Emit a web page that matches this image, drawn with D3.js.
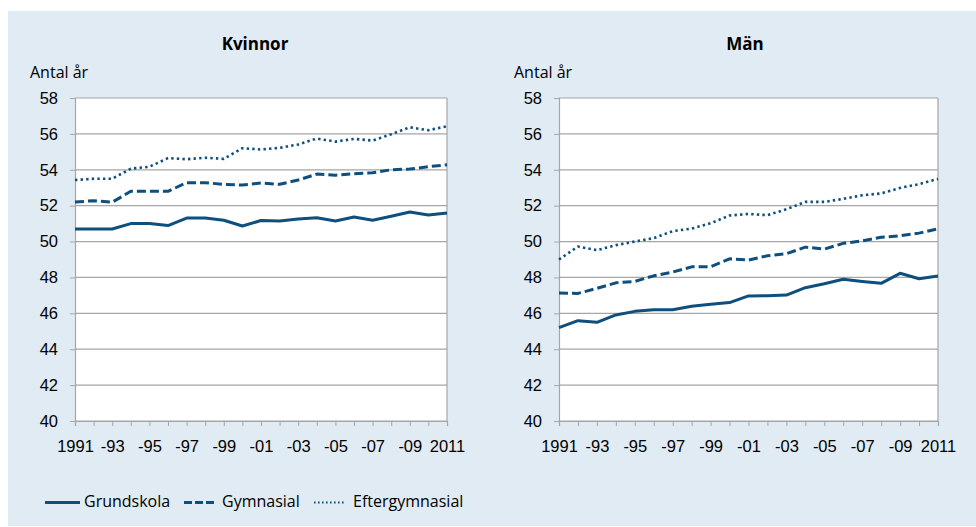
<!DOCTYPE html>
<html>
<head>
<meta charset="utf-8">
<script src="https://cdn.jsdelivr.net/npm/d3@7"></script>
<style>
  html, body { margin: 0; padding: 0; background: #fff; }
  svg { display: block; font-family: "Open Sans", sans-serif; }
  .tick text { font-size: 16.5px; fill: #000; }
</style>
</head>
<body>
<svg id="chart" width="976" height="527"></svg>
<script>
// Medelålder vid utträde, per utbildningsnivå, 1991–2011
const years = d3.range(1991, 2012);
const tickYears = [1991, 1993, 1995, 1997, 1999, 2001, 2003, 2005, 2007, 2009, 2011];
const yTicks = [40, 42, 44, 46, 48, 50, 52, 54, 56, 58];
const seriesNames = ['Grundskola', 'Gymnasial', 'Eftergymnasial'];

const kvinnorGrund = [50.70, 50.70, 50.70, 51.00, 51.00, 50.89, 51.31, 51.31, 51.19, 50.87, 51.17,
  51.15, 51.26, 51.33, 51.15, 51.37, 51.19, 51.41, 51.65, 51.48, 51.59];
const kvinnorGymn = [52.20, 52.28, 52.19, 52.80, 52.80, 52.80, 53.28, 53.28, 53.19, 53.15, 53.26,
  53.19, 53.43, 53.76, 53.70, 53.78, 53.83, 54.00, 54.04, 54.17, 54.28];
const kvinnorEfter = [53.43, 53.50, 53.50, 54.06, 54.17, 54.65, 54.59, 54.67, 54.61, 55.20, 55.13,
  55.22, 55.41, 55.74, 55.57, 55.72, 55.63, 55.98, 56.37, 56.20, 56.43];

const manGrund = [45.20, 45.59, 45.50, 45.91, 46.11, 46.20, 46.20, 46.39, 46.50, 46.60, 46.97,
  46.98, 47.02, 47.43, 47.65, 47.90, 47.78, 47.67, 48.23, 47.93, 48.08];
const manGymn = [47.13, 47.11, 47.39, 47.70, 47.78, 48.09, 48.30, 48.59, 48.59, 49.04, 48.97,
  49.21, 49.32, 49.69, 49.58, 49.90, 50.04, 50.24, 50.32, 50.47, 50.71];
const manEfter = [49.00, 49.72, 49.52, 49.80, 50.00, 50.19, 50.58, 50.72, 51.02, 51.45, 51.54,
  51.47, 51.80, 52.21, 52.21, 52.38, 52.58, 52.68, 52.99, 53.20, 53.49];

const BLUE = '#0e4f7e';
const GRID = '#a6a6a6';
const styles = [
  { width: 3, dash: null },
  { width: 3, dash: '9,4' },
  { width: 2.6, dash: '2.4,3.2' },
];

const svg = d3.select('#chart');
svg.append('rect').attr('x', 8).attr('y', 11).attr('width', 968).attr('height', 515).attr('fill', '#e1ebf3');

function panel(title, titleX, x0, x1, data) {
  const top = 98, bottom = 421;
  const x = d3.scalePoint().domain(years).range([x0, x1]);
  const y = d3.scaleLinear().domain([40, 58]).range([bottom, top]);
  const g = svg.append('g');

  g.append('rect').attr('x', x0).attr('y', top).attr('width', x1 - x0).attr('height', bottom - top).attr('fill', '#fff');

  // grid
  g.append('g').selectAll('line').data(yTicks).join('line')
    .attr('x1', x0).attr('x2', x1).attr('y1', d => y(d)).attr('y2', d => y(d))
    .attr('stroke', GRID).attr('stroke-width', 1.2);
  g.append('line').attr('x1', x1).attr('x2', x1).attr('y1', top).attr('y2', bottom).attr('stroke', GRID).attr('stroke-width', 1.2);

  // y axis
  const ya = g.append('g').attr('transform', `translate(${x0},0)`)
    .call(d3.axisLeft(y).tickValues(yTicks).tickSize(5).tickPadding(12).tickFormat(d3.format('d')));
  ya.select('.domain').attr('stroke', GRID).attr('stroke-width', 1.2);
  ya.selectAll('.tick line').attr('stroke', GRID);

  // x axis
  const xa = g.append('g').attr('transform', `translate(0,${bottom})`)
    .call(d3.axisBottom(x).tickSize(5).tickPadding(14)
      .tickFormat(d => d === 1991 || d === 2011 ? String(d) : (tickYears.includes(d) ? '-' + String(d).slice(2) : '')));
  xa.select('.domain').attr('stroke', GRID).attr('stroke-width', 1.2);
  xa.selectAll('.tick line').attr('stroke', GRID);

  const line = d3.line().x((d, i) => x(years[i])).y(d => y(d));
  data.forEach((vals, k) => {
    g.append('path').datum(vals).attr('d', line)
      .attr('fill', 'none').attr('stroke', BLUE)
      .attr('stroke-width', styles[k].width)
      .attr('stroke-dasharray', styles[k].dash)
      .attr('stroke-linejoin', 'round');
  });

  g.append('text').attr('x', titleX).attr('y', 50).attr('text-anchor', 'middle')
    .attr('font-size', 17).attr('font-weight', 'bold').text(title);
  g.append('text').attr('x', x0 - 45).attr('y', 78).attr('font-size', 16).text('Antal år');
}

panel('Kvinnor', 255, 75, 447, [kvinnorGrund, kvinnorGymn, kvinnorEfter]);
panel('Män', 745, 559, 938, [manGrund, manGymn, manEfter]);

// legend
const legendItems = [
  { x: 45, len: 35, tx: 84 },
  { x: 184, len: 31, tx: 222 },
  { x: 314, len: 31, tx: 353 },
];
const legendDash = [null, '8,3', '1.6,2.4'];
const legendWidth = [3, 3, 1.8];
const lg = svg.append('g');
legendItems.forEach((it, k) => {
  lg.append('line').attr('x1', it.x).attr('x2', it.x + it.len).attr('y1', 502.5).attr('y2', 502.5)
    .attr('stroke', BLUE).attr('stroke-width', legendWidth[k]).attr('stroke-dasharray', legendDash[k]);
  lg.append('text').attr('x', it.tx).attr('y', 507).attr('font-size', 16).text(seriesNames[k]);
});
</script>
</body>
</html>
